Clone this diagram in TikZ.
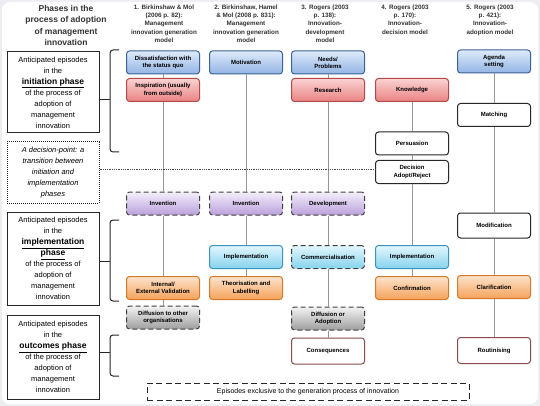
\documentclass[tikz,border=0pt]{standalone}
\usepackage{fontspec}
\setmainfont{Liberation Sans}
\usetikzlibrary{positioning}
\definecolor{pagegrey}{RGB}{236,238,242}
\definecolor{edgeblue}{RGB}{59,99,150}
\definecolor{edgered}{RGB}{179,74,74}
\definecolor{edgecyan}{RGB}{58,148,192}
\definecolor{edgeorange}{RGB}{213,122,43}
\definecolor{edgemaroon}{RGB}{138,75,75}
\definecolor{linkgrey}{RGB}{150,150,150}
\tikzset{
  every node/.style={font=\fontsize{6}{7.2}\selectfont\bfseries},
  episode/.style={rounded corners=3pt, line width=1pt, minimum width=73pt,
    minimum height=23pt, align=center, inner sep=1pt, draw=black!80},
  blue box/.style={episode, draw=edgeblue, top color={rgb,255:red,222;green,234;blue,250},
    bottom color={rgb,255:red,146;green,180;blue,228}},
  red box/.style={episode, draw=edgered, top color={rgb,255:red,250;green,210;blue,210},
    bottom color={rgb,255:red,234;green,130;blue,130}},
  purple box/.style={episode, dash pattern=on 5pt off 3pt, draw=black!75,
    top color={rgb,255:red,245;green,238;blue,251}, bottom color={rgb,255:red,185;green,160;blue,220}},
  cyan box/.style={episode, draw=edgecyan, top color={rgb,255:red,227;green,246;blue,253},
    bottom color={rgb,255:red,134;green,211;blue,238}},
  orange box/.style={episode, draw=edgeorange, top color={rgb,255:red,253;green,227;blue,204},
    bottom color={rgb,255:red,245;green,162;blue,90}},
  grey box/.style={episode, dash pattern=on 5pt off 3pt, draw=black!75,
    top color={rgb,255:red,243;green,243;blue,243}, bottom color={rgb,255:red,158;green,158;blue,158}},
  white box/.style={episode, fill=white, draw=black!85},
  outcome box/.style={episode, fill=white, draw=edgemaroon, minimum height=26pt},
  header/.style={anchor=north, align=center, inner sep=0pt, text=black!80,
    font=\fontsize{6.3}{8.1}\selectfont\bfseries},
  phase box/.style={draw=black!85, line width=1pt, minimum width=92pt, align=center,
    inner sep=1pt, font=\fontsize{7.5}{11}\selectfont},
  link/.style={draw=linkgrey, line width=0.7pt},
  bracket/.style={draw=black!85, line width=1pt, rounded corners=3pt}
}
\newcommand{\phasename}[1]{{\fontsize{8.5}{11}\selectfont\bfseries\underline{#1}}}

\begin{document}
\begin{tikzpicture}[x=1pt,y=-1pt]
  \useasboundingbox (0,0) rectangle (540,406);
  \fill[pagegrey] (0,0) rectangle (540,406);
  \fill[white, rounded corners=8pt] (2,2) rectangle (538,404);

  % headings
  \node[header, font=\fontsize{8.5}{11.5}\selectfont\bfseries] (phases) at (66,5)
    {Phases in the\\ process of adoption\\ of management\\ innovation};
  \node[header] (h1) at (164,5) {1. Birkinshaw \& Mol\\ (2006 p. 82):\\ Management\\ innovation generation\\ model};
  \node[header] (h2) at (246,5) {2. Birkinshaw, Hamel\\ \& Mol (2008 p. 831):\\ Management\\ innovation generation\\ model};
  \node[header] (h3) at (325,5) {3. Rogers (2003\\ p. 138):\\ Innovation-\\ development\\ model};
  \node[header] (h4) at (405,5) {4. Rogers (2003\\ p. 170):\\ Innovation-\\ decision model};
  \node[header] (h5) at (490,5) {5. Rogers (2003\\ p. 421):\\ Innovation-\\ adoption model};

  % phases
  \node[phase box, minimum height=81pt] (pinit) at (53,92.5)
    {Anticipated episodes\\ in the\\ \phasename{initiation phase}\\ of the process of\\ adoption of\\ management\\ innovation};
  \node[phase box, minimum height=61pt, densely dotted, font=\fontsize{7.5}{11}\selectfont\itshape] (pdecide) at (53,172.5)
    {A decision-point: a\\ transition between\\ initiation and\\ implementation\\ phases};
  \node[phase box, minimum height=93pt] (pimpl) at (53,258.5)
    {Anticipated episodes\\ in the\\ \phasename{implementation}\\ \phasename{phase}\\ of the process of\\ adoption of\\ management\\ innovation};
  \node[phase box, minimum height=84pt] (pout) at (53,357)
    {Anticipated episodes\\ in the\\ \phasename{outcomes phase}\\ of the process of\\ adoption of\\ management\\ innovation};

  % brackets
  \coordinate (b1) at (110,100);
  \coordinate (b2) at (110,261);
  \coordinate (b3) at (110,352);
  \draw[bracket] (119,50) -- (110,50) -- (110,152) -- (119,152);
  \draw[bracket] (119,220) -- (110,220) -- (110,301) -- (119,301);
  \draw[bracket] (119,335) -- (110,335) -- (110,376) -- (119,376);
  \draw[bracket] (pinit.east |- b1) -- (b1);
  \draw[bracket] (pimpl.east |- b2) -- (b2);
  \draw[bracket] (pout.east |- b3) -- (b3);

  % column 1
  \node[blue box] (dissat) at (163,62.5) {Dissatisfaction with\\ the status quo};
  \node[red box] (inspir) at (163,90) {Inspiration (usually\\ from outside)};
  \node[purple box] (inv1) at (163,203.5) {Invention};
  \node[orange box] (valid) at (163,288) {Internal/\\ External Validation};
  \node[grey box] (diffuse) at (163,317.5) {Diffusion to other\\ organisations};
  % column 2
  \node[blue box] (motiv) at (246,62.5) {Motivation};
  \node[purple box] (inv2) at (246,203.5) {Invention};
  \node[cyan box] (impl2) at (246,257) {Implementation};
  \node[orange box] (theor) at (246,288) {Theorisation and\\ Labelling};
  % column 3
  \node[blue box] (needs) at (328,62.5) {Needs/\\ Problems};
  \node[red box] (research) at (328,90) {Research};
  \node[purple box] (devel) at (328,203.5) {Development};
  \node[cyan box, dash pattern=on 5pt off 3pt, draw=black!75] (comm) at (328,257) {Commercialisation};
  \node[grey box] (diffad) at (328,318.5) {Diffusion or\\ Adoption};
  \node[outcome box] (conseq) at (328,351) {Consequences};
  % column 4
  \node[red box] (know) at (412,90) {Knowledge};
  \node[white box] (persu) at (412,143.5) {Persuasion};
  \node[white box] (decis) at (412,172) {Decision\\ Adopt/Reject};
  \node[cyan box] (impl4) at (412,257) {Implementation};
  \node[orange box] (confirm) at (412,288) {Confirmation};
  % column 5
  \node[blue box] (agenda) at (494,61.5) {Agenda\\ setting};
  \node[white box] (match) at (494,115) {Matching};
  \node[white box, minimum height=25pt] (modif) at (494,225.5) {Modification};
  \node[orange box] (clarif) at (494,287) {Clarification};
  \node[outcome box] (routin) at (494,350.5) {Routinising};

  % links
  \draw[link] (dissat) -- (inspir) -- (inv1) -- (valid) -- (diffuse);
  \draw[link] (motiv) -- (inv2) -- (impl2) -- (theor);
  \draw[link] (needs) -- (research) -- (devel) -- (comm) -- (diffad) -- (conseq);
  \draw[link] (know) -- (persu) -- (decis) -- (impl4) -- (confirm);
  \draw[link] (agenda) -- (match) -- (modif) -- (clarif) -- (routin);
  \draw[densely dotted, line width=0.8pt, black!70] (pdecide.east |- 0,169) -- (decis.west |- 0,169);

  % legend
  \node[draw=black!85, line width=1pt, dash pattern=on 6pt off 3.5pt, minimum width=322pt,
    minimum height=17pt, font=\fontsize{7}{8}\selectfont] (exclusive) at (308,391.5)
    {Episodes exclusive to the generation process of innovation};
\end{tikzpicture}
\end{document}
